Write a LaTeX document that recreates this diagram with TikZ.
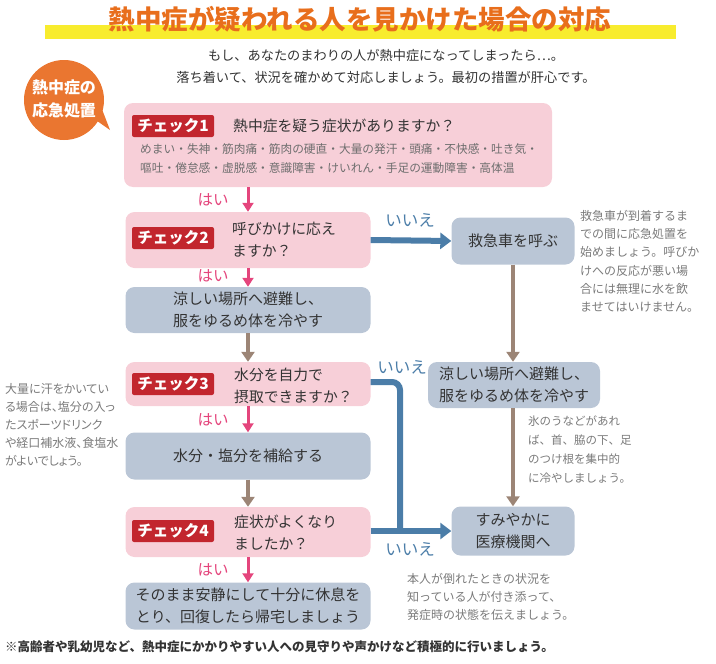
\documentclass[tikz,border=0pt]{standalone}
\usepackage{fontspec}
\setmainfont{Noto Sans CJK JP}
\newfontfamily\tightjp[RawFeature=+palt]{Noto Sans CJK JP}
\usetikzlibrary{arrows.meta}

\definecolor{titleorange}{HTML}{E86E1C}
\definecolor{bandyellow}{HTML}{F8EC2E}
\definecolor{bubbleorange}{HTML}{EA7630}
\definecolor{boxpink}{HTML}{F7CFD8}
\definecolor{boxgray}{HTML}{BAC6D6}
\definecolor{badgered}{HTML}{C2262E}
\definecolor{yespink}{HTML}{E4457C}
\definecolor{noblue}{HTML}{4B7DA8}
\definecolor{nextbrown}{HTML}{9C8576}
\definecolor{notegray}{HTML}{7A7A7A}
\definecolor{textdark}{HTML}{333333}

\begin{document}
\begin{tikzpicture}[x=1pt,y=-1pt,
  every node/.style={inner sep=0pt,text=textdark},
  checkbox/.style={fill=boxpink,rounded corners=9pt},
  actbox/.style={fill=boxgray,rounded corners=9pt,align=center,
    font=\fontsize{15}{22}\selectfont},
  badge/.style={fill=badgered,text=white,rounded corners=2pt,
    minimum width=82pt,minimum height=22pt,
    font=\bfseries\fontsize{15.5}{17}\selectfont},
  ques/.style={anchor=west,align=left,font=\fontsize{14.8}{22}\selectfont},
  yesarrow/.style={draw=yespink,line width=3pt,-{Triangle[width=11pt,length=9pt]}},
  noarrow/.style={draw=noblue,line width=6pt,-{Triangle[width=16pt,length=11pt]}},
  nextarrow/.style={draw=nextbrown,line width=4pt,-{Triangle[width=13pt,length=10pt]}},
  yeslabel/.style={text=yespink,font=\fontsize{15.5}{17}\selectfont},
  nolabel/.style={text=noblue,font=\fontsize{16.5}{18}\selectfont},
  note/.style={anchor=north west,align=left,text=notegray,
    font=\fontsize{12}{18.3}\selectfont}]
\useasboundingbox (0,0) rectangle (716,664);

% title
\fill[bandyellow] (45,25) rectangle (676,39);
\node[text=titleorange,font=\bfseries\fontsize{26.5}{28}\selectfont] (title) at (360,19) {熱中症が疑われる人を見かけた場合の対応};
\node[font=\fontsize{13.2}{22}\selectfont,align=center] (lead) at (386,66)
  {もし、あなたのまわりの人が熱中症になってしまったら⋯。\\落ち着いて、状況を確かめて対応しましょう。最初の措置が肝心です。};

% bubble
\fill[bubbleorange] (90,116) -- (110,130) -- (100,104) -- cycle;
\fill[bubbleorange] (64,100) circle[radius=40pt];
\node[text=white,align=center,font=\bfseries\fontsize{16}{23}\selectfont] (bubble) at (64,99) {熱中症の\\応急処置};

% check boxes
\node[checkbox,minimum width=428pt,minimum height=84pt] (c1) at (338,145) {};
\node[checkbox,minimum width=245pt,minimum height=56pt] (c2) at (248,240) {};
\node[checkbox,minimum width=245pt,minimum height=44pt] (c3) at (248,384) {};
\node[checkbox,minimum width=245pt,minimum height=50pt] (c4) at (248,532) {};

\node[badge] (b1) at (173,126) {チェック1};
\node[badge] (b2) at (173,238) {チェック2};
\node[badge] (b3) at (173,384) {チェック3};
\node[badge] (b4) at (173,531) {チェック4};

\node[ques] (q1) at (233,126) {熱中症を疑う症状がありますか？};
\node[note,anchor=west,text=notegray!90!black,font=\fontsize{11.7}{19}\selectfont] (s1) at (140,159)
  {めまい・失神・筋肉痛・筋肉の硬直・大量の発汗・頭痛・不快感・吐き気・\\嘔吐・倦怠感・虚脱感・意識障害・けいれん・手足の運動障害・高体温};
\node[ques] (q2) at (232,240) {呼びかけに応え\\ますか？};
\node[ques] (q3) at (234,386) {水分を自力で\\摂取できますか？};
\node[ques] (q4) at (234,533) {症状がよくなり\\ましたか？};

% action boxes
\node[actbox,minimum width=245pt,minimum height=46pt] (a1) at (248,310) {涼しい場所へ避難し、\\服をゆるめ体を冷やす};
\node[actbox,minimum width=245pt,minimum height=47pt] (a2) at (248,456) {水分・塩分を補給する};
\node[actbox,minimum width=245pt,minimum height=47pt] (a3) at (248,606) {そのまま安静にして十分に休息を\\とり、回復したら帰宅しましょう};
\node[actbox,minimum width=123pt,minimum height=47pt] (amb) at (513,241) {救急車を呼ぶ};
\node[actbox,minimum width=172pt,minimum height=46pt] (r2) at (514,385) {涼しい場所へ避難し、\\服をゆるめ体を冷やす};
\node[actbox,minimum width=123pt,minimum height=49pt] (r3) at (513,531) {すみやかに\\医療機関へ};

% yes arrows
\draw[yesarrow] (c1.south -| c2.north) -- (c2.north);
\draw[yesarrow] (c2.south) -- (a1.north);
\draw[yesarrow] (c3.south) -- (a2.north);
\draw[yesarrow] (c4.south) -- (a3.north);
\node[yeslabel] (y1) at (213,200) {はい};
\node[yeslabel] (y2) at (213,276) {はい};
\node[yeslabel] (y3) at (213,420) {はい};
\node[yeslabel] (y4) at (213,570) {はい};

% next arrows
\draw[nextarrow] (a1.south) -- (c3.north);
\draw[nextarrow] (a2.south) -- (c4.north);
\draw[nextarrow] (amb.south) -- (amb.south |- r2.north);
\draw[nextarrow] (r2.south -| r3.north) -- (r3.north);

% no arrows
\coordinate (jn) at (400,531);
\draw[noarrow] (c2.east) -- (amb.west);
\draw[noarrow,-,rounded corners=8pt] (c3.east |- 0,382) -| (jn);
\draw[noarrow] (c4.east |- r3.west) -- (r3.west);
\node[nolabel] (n1) at (410,220) {いいえ};
\node[nolabel] (n2) at (402,367) {いいえ};
\node[nolabel] (n3) at (410,549) {いいえ};

% notes
\node[note] (m1) at (580,210) {救急車が到着するま\\での間に応急処置を\\始めましょう。呼びか\\けへの反応が悪い場\\合には無理に水を飲\\ませてはいけません。};
\node[note,font=\tightjp\fontsize{12}{18}\selectfont] (m2) at (5,383) {大量に汗をかいてい\\る場合は、塩分の入っ\\たスポーツドリンク\\や経口補水液、食塩水\\がよいでしょう。};
\node[note,font=\fontsize{11.5}{19}\selectfont] (m3) at (528,416) {氷のうなどがあれ\\ば、首、脇の下、足\\のつけ根を集中的\\に冷やしましょう。};
\node[note] (m4) at (407,573) {本人が倒れたときの状況を\\知っている人が付き添って、\\発症時の状態を伝えましょう。};
\node[anchor=west,font=\bfseries\fontsize{12.5}{15}\selectfont] (foot) at (5,647) {※高齢者や乳幼児など、熱中症にかかりやすい人への見守りや声かけなど積極的に行いましょう。};
\end{tikzpicture}
\end{document}
